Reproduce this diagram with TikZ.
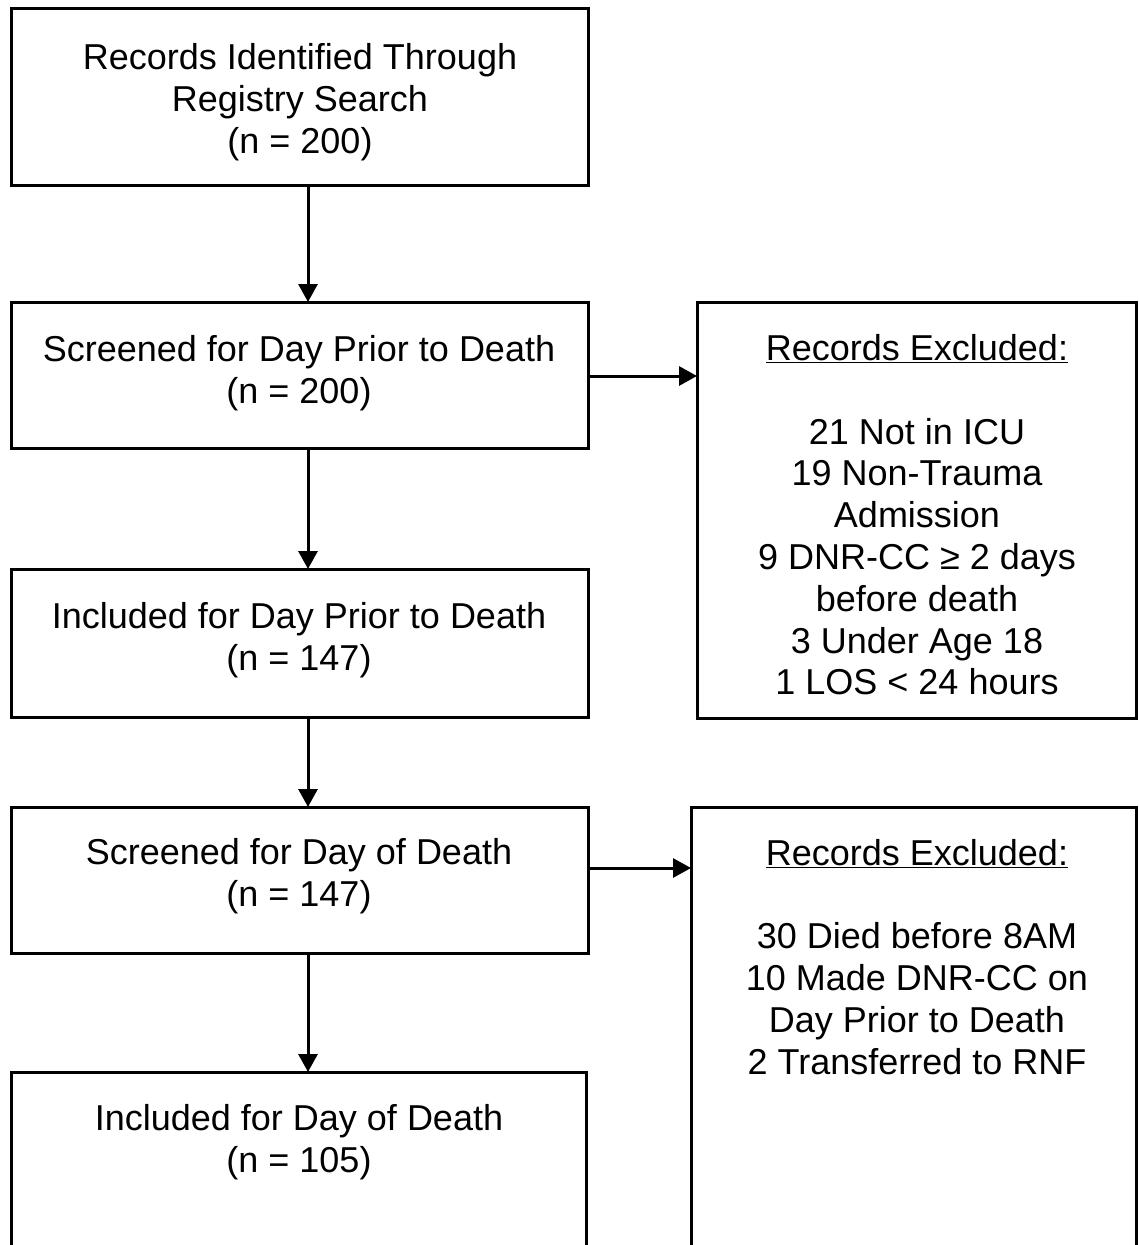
\documentclass[tikz,border=0pt]{standalone}
\usepackage{fontspec}
\setmainfont{Liberation Sans}
\usetikzlibrary{arrows.meta}
\begin{document}
\begin{tikzpicture}[x=1pt,y=-1pt,
  box/.style={draw=black, line width=3pt, rectangle, inner sep=0pt, outer sep=0pt, anchor=north west},
  txt/.style={align=center, inner sep=0pt, font=\fontsize{36}{41.8}\selectfont},
  arr/.style={line width=3pt, -{Triangle[length=18pt,width=19pt]}}]
\useasboundingbox (0,0) rectangle (1139,1245);
\clip (0,0) rectangle (1139,1245);
% left column boxes
\node[box, minimum width=577pt, minimum height=177pt] (b1) at (11,8) {};
\node[box, minimum width=577pt, minimum height=146pt] (b2) at (11,302) {};
\node[box, minimum width=577pt, minimum height=148pt] (b3) at (11,569) {};
\node[box, minimum width=577pt, minimum height=146pt] (b4) at (11,807) {};
\node[box, minimum width=575pt, minimum height=200pt] (b5) at (11,1072) {};
% right column boxes
\node[box, minimum width=439pt, minimum height=416pt] (r1) at (697,302) {};
\node[box, minimum width=445pt, minimum height=460pt] (r2) at (691,807) {};
% texts
\node[txt] (t1) at (300,102) {Records Identified Through\\Registry Search\\(n = 200)};
\node[txt] (t2) at (299,373) {Screened for Day Prior to Death\\(n = 200)};
\node[txt] (t3) at (299,640) {Included for Day Prior to Death\\(n = 147)};
\node[txt] (t4) at (299,876) {Screened for Day of Death\\(n = 147)};
\node[txt] (t5) at (299,1142) {Included for Day of Death\\(n = 105)};
\node[txt] (t6) at (917,515) {\underline{Records Excluded:}\\[41.5pt]21 Not in ICU\\19 Non-Trauma\\Admission\\9 DNR-CC ≥ 2 days\\before death\\3 Under Age 18\\1 LOS < 24 hours};
\node[txt] (t7) at (917,957) {\underline{Records Excluded:}\\[41.5pt]30 Died before 8AM\\10 Made DNR-CC on\\Day Prior to Death\\2 Transferred to RNF};
% connectors
\draw[arr] ([xshift=8.5pt]b1.south) -- ([xshift=8.5pt]b2.north);
\draw[arr] ([xshift=8.5pt]b2.south) -- ([xshift=8.5pt]b3.north);
\draw[arr] ([xshift=8.5pt]b3.south) -- ([xshift=8.5pt]b4.north);
\draw[arr] ([xshift=8.5pt]b4.south) -- ([xshift=8.5pt]b4.south |- b5.north);
\draw[arr] ([yshift=-1pt]b2.east) -- ([yshift=-1pt]b2.east -| r1.west);
\draw[arr] ([yshift=12pt]b4.east) -- ([yshift=12pt]b4.east -| r2.west);
\end{tikzpicture}
\end{document}
